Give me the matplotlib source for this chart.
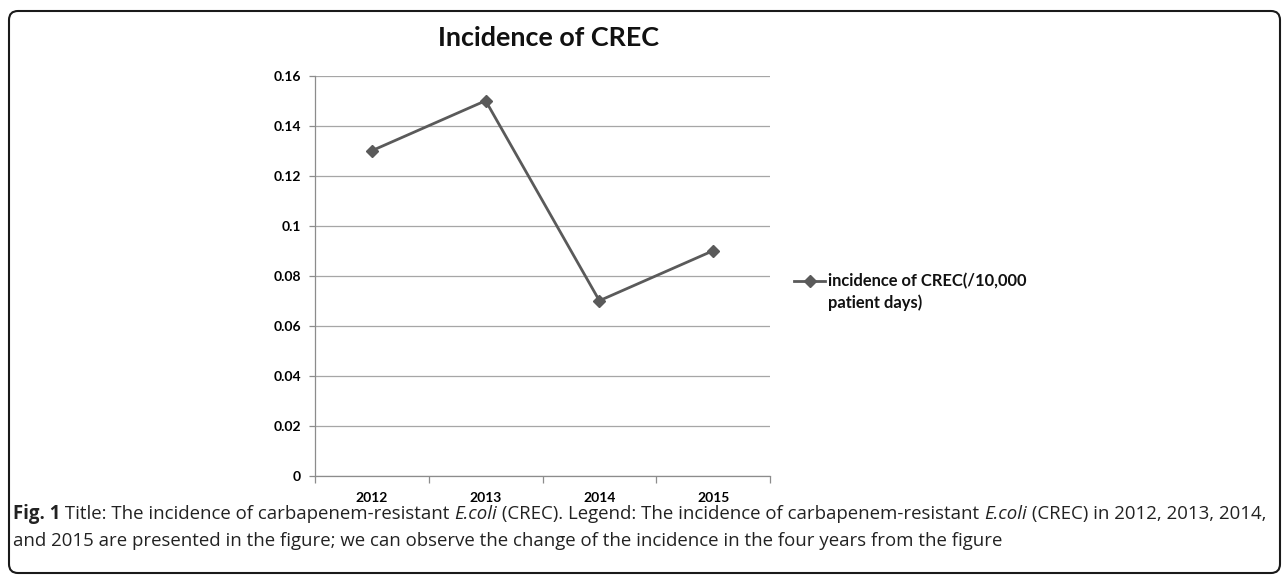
import matplotlib
matplotlib.use('Agg')
import matplotlib.pyplot as plt
from matplotlib.patches import FancyBboxPatch
from matplotlib.lines import Line2D

# ---------------- data ----------------
years = ['2012', '2013', '2014', '2015']
incidence = [0.13, 0.15, 0.07, 0.09]
y_ticks = [0, 0.02, 0.04, 0.06, 0.08, 0.1, 0.12, 0.14, 0.16]
y_tick_labels = ['0', '0.02', '0.04', '0.06', '0.08', '0.1', '0.12', '0.14', '0.16']
chart_title = 'Incidence of CREC'
legend_lines = ['incidence of CREC(/10,000', 'patient days)']
caption_line1 = [('Fig. 1', 'bold'),
                 (' Title: The incidence of carbapenem-resistant ', 'normal'),
                 ('E.coli', 'italic'),
                 (' (CREC). Legend: The incidence of carbapenem-resistant ', 'normal'),
                 ('E.coli', 'italic'),
                 (' (CREC) in 2012, 2013, 2014,', 'normal')]
caption_line2 = [('and 2015 are presented in the figure; we can observe the change '
                  'of the incidence in the four years from the figure', 'normal')]

# ---------------- layout ----------------
W, H = 1287, 575
fig = plt.figure(figsize=(W / 100, H / 100), dpi=100)
renderer = fig.canvas.get_renderer()

def fx(x):
    return x / W

def fy(y):
    return 1 - y / H

LINE_C = '#5a5a5a'
GRID_C = '#a6a6a6'
AX_C = '#8c8c8c'
CHART_FONT = 'Lato'
CAP_FONT = 'Open Sans'

# border
border = FancyBboxPatch((9, H - 573), 1271, 562,
                        boxstyle='round,pad=0,rounding_size=9',
                        transform=None, fill=False, edgecolor='#1a1a1a', lw=1.5)
fig.patches.append(border)

ax_left, ax_right, ax_top, ax_bottom = 315, 770, 75.7, 475.7
ax = fig.add_axes([fx(ax_left), fy(ax_bottom), (ax_right - ax_left) / W, (ax_bottom - ax_top) / H])
xs = list(range(len(years)))
ax.plot(xs, incidence, color=LINE_C, lw=2.0, marker='D', markersize=6.5,
        markerfacecolor=LINE_C, markeredgecolor=LINE_C, zorder=3, clip_on=False)
ax.set_xlim(-0.5, len(years) - 0.5)
ax.set_ylim(0, 0.16)

ax.set_yticks(y_ticks)
ax.set_yticklabels(y_tick_labels, fontsize=10, fontweight='bold', family=CHART_FONT)
ax.yaxis.grid(True, color=GRID_C, lw=0.9)
ax.set_axisbelow(True)

ax.set_xticks([i - 0.5 for i in range(len(years) + 1)])
ax.set_xticklabels([])
ax.set_xticks(xs, minor=True)
ax.set_xticklabels(years, minor=True, fontsize=10, fontweight='bold', family=CHART_FONT)
ax.tick_params(axis='x', which='major', length=5, color=AX_C, width=0.9, direction='out')
ax.tick_params(axis='x', which='minor', length=0, pad=12)
ax.tick_params(axis='y', length=4, color=AX_C, width=0.9, pad=6)
for s in ['top', 'right']:
    ax.spines[s].set_visible(False)
for s in ['left', 'bottom']:
    ax.spines[s].set_color(AX_C)
    ax.spines[s].set_linewidth(0.9)

def fit_text(x, y, s, width_px, **kw):
    t = fig.text(x, y, s, fontsize=10, **kw)
    w = t.get_window_extent(renderer).width
    t.set_fontsize(10 * width_px / w)
    return t

# title
fit_text(fx(548), fy(38), chart_title, 222, family=CHART_FONT, fontweight='bold',
         ha='center', va='center', color='#111111')

# legend
fig.add_artist(Line2D([fx(794), fx(825)], [fy(281), fy(281)], color=LINE_C, lw=2.0))
fig.add_artist(Line2D([fx(809.5)], [fy(281)], color=LINE_C, marker='D', markersize=6.5, lw=0))
t1 = fit_text(fx(828), fy(281), legend_lines[0], 200, family=CHART_FONT, fontweight='bold',
              ha='left', va='center', color='#111111')
fig.text(fx(828), fy(303), legend_lines[1], fontsize=t1.get_fontsize(), family=CHART_FONT,
         fontweight='bold', ha='left', va='center', color='#111111')

# caption
def run_kw(style):
    return dict(fontweight='bold' if style == 'bold' else 'normal',
                fontstyle='italic' if style == 'italic' else 'normal')

def draw_runs(runs, x0, y, size):
    x = x0
    texts = []
    for s, style in runs:
        t = fig.text(fx(x), fy(y), s, fontsize=size, family=CAP_FONT, ha='left',
                     va='center', color='#222222', **run_kw(style))
        x += t.get_window_extent(renderer).width
        texts.append(t)
    return x, texts

# fit caption line 1 to end at x=1268
size = 12.0
for _ in range(4):
    end, texts = draw_runs(caption_line1, 13, 514, size)
    for t in texts:
        t.remove()
    size *= (1268 - 13) / (end - 13)
draw_runs(caption_line1, 13, 514, size)
draw_runs(caption_line2, 13, 541, size)

fig.savefig('out.png', dpi=100)
